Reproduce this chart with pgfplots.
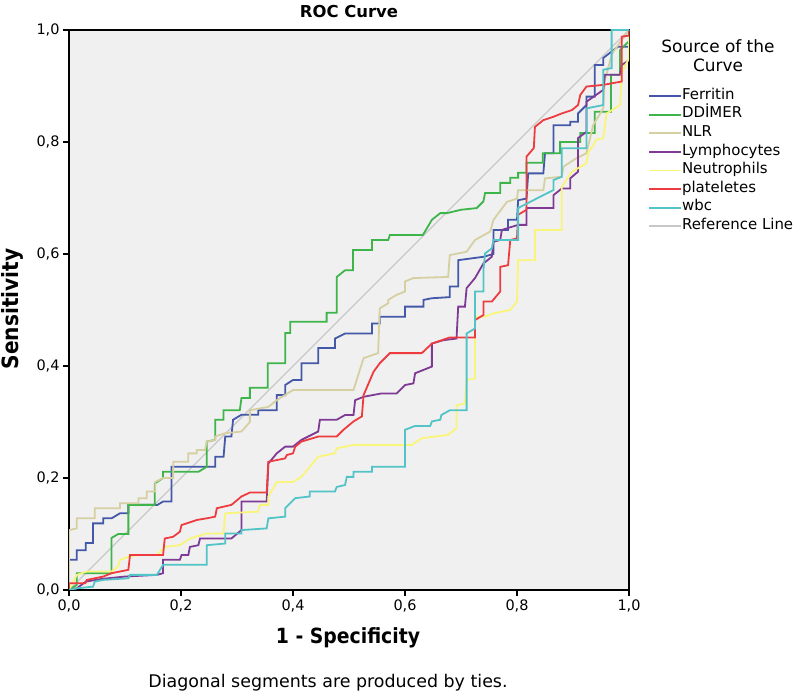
\documentclass[border=0pt]{standalone}
\usepackage{pgfplots}
\pgfplotsset{compat=1.18}
\usepackage{fontspec}
\setmainfont{DejaVu Sans}
\newfontfamily\condbold{DejaVu Sans Condensed Bold}
\definecolor{cFer}{HTML}{4358A8}
\definecolor{cDD}{HTML}{3DB54A}
\definecolor{cNLR}{HTML}{D5CFA2}
\definecolor{cLym}{HTML}{7F3A96}
\definecolor{cNeu}{HTML}{F9F57A}
\definecolor{cPla}{HTML}{EE3B3F}
\definecolor{cWbc}{HTML}{52C4C8}
\definecolor{cRef}{HTML}{C8C8C8}
\definecolor{bgc}{HTML}{F0F0F0}
\begin{document}
\begin{tikzpicture}
\path[use as bounding box] (0bp,0bp) rectangle (793bp,698bp);
\begin{axis}[
  at={(69bp,108bp)}, anchor=south west,
  width=560bp, height=560bp, scale only axis,
  xmin=0, xmax=1, ymin=0, ymax=1,
  xtick={0,0.2,0.4,0.6,0.8,1}, ytick={0,0.2,0.4,0.6,0.8,1},
  tick align=outside, xtick pos=bottom, ytick pos=left,
  major tick length=6bp,
  tick style={black, line width=1.2bp},
  axis line style={black, line width=1.3bp},
  axis background/.style={fill=bgc},
  /pgf/number format/.cd, fixed, fixed zerofill, precision=1, use comma, assume math mode=true,
  /pgfplots/.cd,
  ticklabel style={font=\fontsize{14.5}{17}\selectfont},
  no markers,
  legend style={at={(1.034,0.899)}, anchor=north west, draw=none, fill=none,
    font=\fontsize{15}{18}\selectfont, row sep=0pt, inner sep=0pt,
    nodes={inner sep=0pt, text height=12.6bp, text depth=6bp},
    /tikz/every even column/.append style={column sep=3bp}},
  legend cell align=left,
  legend image code/.code={\draw[#1] (0bp,0bp) -- (32bp,0bp);},
]
\addplot[cRef, line width=1.3bp, forget plot] coordinates {(0,0) (1,1)};
% Ferritin
\addplot[cFer, line width=1.8bp] coordinates {
(0,0) (0,0.054) (0.014,0.054) (0.014,0.071) (0.03,0.071) (0.03,0.084) (0.043,0.084) (0.043,0.119) (0.061,0.119) (0.061,0.128) (0.076,0.128) (0.091,0.137) (0.106,0.137) (0.106,0.152) (0.158,0.152) (0.168,0.158) (0.183,0.158) (0.183,0.22) (0.261,0.22) (0.261,0.238) (0.276,0.238) (0.279,0.274) (0.29,0.274) (0.293,0.304) (0.308,0.313) (0.338,0.313) (0.338,0.321) (0.371,0.321) (0.371,0.348) (0.386,0.348) (0.386,0.366) (0.4,0.375) (0.415,0.375) (0.415,0.405) (0.445,0.405) (0.445,0.432) (0.475,0.432) (0.475,0.449) (0.493,0.458) (0.541,0.458) (0.541,0.476) (0.555,0.476) (0.555,0.488) (0.6,0.488) (0.6,0.506) (0.633,0.506) (0.633,0.518) (0.648,0.521) (0.68,0.523) (0.68,0.542) (0.695,0.542) (0.695,0.589) (0.74,0.595) (0.758,0.6) (0.758,0.643) (0.784,0.643) (0.784,0.661) (0.8,0.661) (0.802,0.696) (0.817,0.699) (0.82,0.744) (0.847,0.744) (0.85,0.78) (0.865,0.78) (0.865,0.83) (0.895,0.83) (0.895,0.836) (0.909,0.836) (0.909,0.851) (0.924,0.866) (0.924,0.881) (0.939,0.881) (0.939,0.9375) (0.954,0.9375) (0.954,0.95) (0.98,0.97) (1,0.97) (1,1)};
\addlegendentry{Ferritin}
% DDIMER
\addplot[cDD, line width=1.8bp] coordinates {
(0,0) (0.014,0.009) (0.014,0.03) (0.076,0.03) (0.076,0.093) (0.088,0.1) (0.106,0.1) (0.106,0.152) (0.153,0.152) (0.153,0.19) (0.168,0.2) (0.168,0.211) (0.231,0.211) (0.246,0.22) (0.246,0.265) (0.261,0.268) (0.261,0.304) (0.276,0.304) (0.276,0.321) (0.305,0.321) (0.308,0.343) (0.323,0.343) (0.323,0.361) (0.355,0.361) (0.355,0.405) (0.386,0.405) (0.386,0.459) (0.395,0.459) (0.395,0.479) (0.46,0.479) (0.46,0.495) (0.478,0.495) (0.478,0.559) (0.493,0.571) (0.507,0.571) (0.507,0.607) (0.541,0.607) (0.541,0.625) (0.57,0.625) (0.573,0.634) (0.632,0.634) (0.648,0.661) (0.663,0.673) (0.675,0.673) (0.7,0.679) (0.728,0.682) (0.74,0.694) (0.743,0.709) (0.77,0.709) (0.77,0.727) (0.788,0.727) (0.788,0.736) (0.802,0.736) (0.802,0.745) (0.817,0.745) (0.817,0.763) (0.846,0.763) (0.846,0.78) (0.877,0.78) (0.877,0.8) (0.913,0.8) (0.913,0.816) (0.939,0.816) (0.939,0.854) (0.968,0.854) (0.968,0.92) (0.984,0.92) (0.984,0.964) (1,0.98) (1,1)};
\addlegendentry{DD\.{I}MER}
% NLR
\addplot[cNLR, line width=1.8bp] coordinates {
(0,0) (0,0.107) (0.014,0.11) (0.014,0.128) (0.046,0.128) (0.046,0.146) (0.091,0.146) (0.091,0.155) (0.124,0.155) (0.124,0.164) (0.139,0.164) (0.139,0.176) (0.154,0.176) (0.154,0.193) (0.168,0.2) (0.186,0.2) (0.186,0.229) (0.213,0.229) (0.213,0.244) (0.228,0.244) (0.228,0.25) (0.243,0.25) (0.246,0.265) (0.261,0.268) (0.261,0.274) (0.279,0.28) (0.308,0.283) (0.323,0.3) (0.323,0.321) (0.356,0.327) (0.371,0.339) (0.4,0.357) (0.508,0.357) (0.526,0.414) (0.552,0.423) (0.555,0.503) (0.57,0.512) (0.57,0.518) (0.585,0.527) (0.6,0.533) (0.6,0.551) (0.615,0.557) (0.677,0.559) (0.68,0.598) (0.71,0.604) (0.725,0.625) (0.752,0.64) (0.758,0.661) (0.782,0.693) (0.8,0.699) (0.802,0.714) (0.847,0.714) (0.85,0.735) (0.88,0.738) (0.883,0.756) (0.906,0.771) (0.924,0.78) (0.936,0.83) (0.954,0.86) (0.957,0.911) (0.969,0.955) (0.972,0.961) (1,1)};
\addlegendentry{NLR}
% Lymphocytes
\addplot[cLym, line width=1.8bp] coordinates {
(0,0) (0.014,0.003) (0.03,0.015) (0.06,0.02) (0.1,0.024) (0.157,0.027) (0.168,0.03) (0.168,0.054) (0.198,0.054) (0.201,0.0625) (0.213,0.0625) (0.216,0.077) (0.231,0.08) (0.234,0.092) (0.29,0.092) (0.308,0.107) (0.308,0.158) (0.353,0.158) (0.356,0.226) (0.371,0.244) (0.386,0.256) (0.4,0.256) (0.415,0.268) (0.445,0.283) (0.448,0.304) (0.478,0.304) (0.493,0.3125) (0.508,0.3125) (0.511,0.339) (0.526,0.345) (0.558,0.351) (0.585,0.351) (0.6,0.366) (0.615,0.369) (0.618,0.387) (0.633,0.393) (0.648,0.399) (0.648,0.44) (0.668,0.446) (0.692,0.449) (0.695,0.506) (0.707,0.506) (0.71,0.539) (0.725,0.557) (0.74,0.583) (0.755,0.595) (0.758,0.622) (0.77,0.625) (0.773,0.643) (0.802,0.652) (0.817,0.652) (0.817,0.682) (0.865,0.682) (0.865,0.705) (0.88,0.717) (0.895,0.717) (0.895,0.735) (0.909,0.747) (0.909,0.807) (0.924,0.818) (0.924,0.872) (0.954,0.893) (0.957,0.92) (0.984,0.92) (0.987,0.9375) (1,0.946) (1,1)};
\addlegendentry{Lymphocytes}
% Neutrophils
\addplot[cNeu, line width=1.8bp] coordinates {
(0,0) (0.014,0.027) (0.032,0.033) (0.076,0.033) (0.088,0.042) (0.091,0.054) (0.109,0.06) (0.124,0.0625) (0.157,0.0625) (0.171,0.077) (0.198,0.08) (0.216,0.092) (0.246,0.101) (0.276,0.101) (0.279,0.137) (0.338,0.14) (0.341,0.152) (0.356,0.152) (0.356,0.167) (0.371,0.193) (0.4,0.193) (0.415,0.202) (0.43,0.22) (0.445,0.238) (0.475,0.244) (0.478,0.253) (0.508,0.259) (0.612,0.259) (0.63,0.271) (0.677,0.277) (0.692,0.289) (0.692,0.33) (0.707,0.333) (0.71,0.375) (0.725,0.378) (0.725,0.488) (0.743,0.488) (0.758,0.494) (0.788,0.5) (0.8,0.515) (0.802,0.589) (0.832,0.589) (0.832,0.643) (0.88,0.643) (0.88,0.72) (0.898,0.747) (0.924,0.762) (0.927,0.78) (0.942,0.804) (0.954,0.807) (0.96,0.851) (0.984,0.866) (0.987,0.923) (1,0.95) (1,1)};
\addlegendentry{Neutrophils}
% plateletes
\addplot[cPla, line width=1.8bp] coordinates {
(0,0) (0,0.012) (0.029,0.012) (0.032,0.018) (0.061,0.024) (0.076,0.03) (0.106,0.036) (0.109,0.0625) (0.168,0.0625) (0.171,0.092) (0.186,0.095) (0.198,0.104) (0.201,0.116) (0.228,0.125) (0.246,0.128) (0.261,0.131) (0.264,0.146) (0.29,0.152) (0.308,0.167) (0.323,0.174) (0.353,0.174) (0.356,0.229) (0.386,0.235) (0.389,0.241) (0.4,0.244) (0.404,0.256) (0.415,0.265) (0.445,0.274) (0.478,0.274) (0.49,0.286) (0.508,0.301) (0.523,0.31) (0.526,0.348) (0.544,0.39) (0.555,0.405) (0.573,0.423) (0.63,0.423) (0.648,0.44) (0.68,0.451) (0.725,0.451) (0.725,0.482) (0.74,0.491) (0.74,0.515) (0.755,0.515) (0.77,0.533) (0.77,0.577) (0.784,0.58) (0.788,0.625) (0.8,0.628) (0.802,0.67) (0.817,0.679) (0.817,0.774) (0.83,0.789) (0.832,0.827) (0.847,0.839) (0.865,0.845) (0.88,0.851) (0.898,0.857) (0.909,0.866) (0.913,0.884) (0.924,0.899) (0.954,0.902) (0.987,0.908) (0.987,0.988) (1,0.99) (1,1)};
\addlegendentry{plateletes}
% wbc
\addplot[cWbc, line width=1.8bp] coordinates {
(0,0) (0.014,0.003) (0.043,0.006) (0.046,0.015) (0.061,0.018) (0.106,0.021) (0.109,0.027) (0.157,0.027) (0.168,0.045) (0.246,0.045) (0.246,0.08) (0.279,0.083) (0.279,0.101) (0.308,0.101) (0.308,0.107) (0.353,0.11) (0.356,0.128) (0.386,0.131) (0.386,0.146) (0.404,0.164) (0.43,0.167) (0.43,0.176) (0.475,0.176) (0.478,0.184) (0.493,0.1875) (0.496,0.202) (0.508,0.202) (0.508,0.211) (0.541,0.211) (0.541,0.22) (0.6,0.22) (0.6,0.286) (0.618,0.293) (0.645,0.293) (0.648,0.301) (0.663,0.304) (0.665,0.3125) (0.68,0.321) (0.71,0.321) (0.71,0.458) (0.725,0.467) (0.725,0.533) (0.74,0.533) (0.74,0.571) (0.743,0.601) (0.755,0.61) (0.758,0.625) (0.802,0.625) (0.802,0.682) (0.835,0.699) (0.865,0.714) (0.865,0.732) (0.88,0.738) (0.88,0.789) (0.924,0.789) (0.924,0.86) (0.954,0.866) (0.954,0.929) (0.969,0.932) (0.969,1) (1,1)};
\addlegendentry{wbc}
\addlegendimage{cRef, line width=1.8bp}
\addlegendentry{Reference Line}
\end{axis}
\node[font=\bfseries\fontsize{16.5}{19}\selectfont] at (349bp,686bp) {ROC Curve};
\node[font=\condbold\fontsize{22.5}{25}\selectfont, rotate=90] at (12bp,389bp) {Sensitivity};
\node[font=\condbold\fontsize{21}{24}\selectfont] at (348bp,60bp) {1 - Specificity};
\node[font=\fontsize{17.5}{20}\selectfont] at (328bp,15bp) {Diagonal segments are produced by ties.};
\node[font=\fontsize{17}{20}\selectfont] at (718bp,652bp) {Source of the};
\node[font=\fontsize{17}{20}\selectfont] at (718bp,633bp) {Curve};
\end{tikzpicture}
\end{document}
